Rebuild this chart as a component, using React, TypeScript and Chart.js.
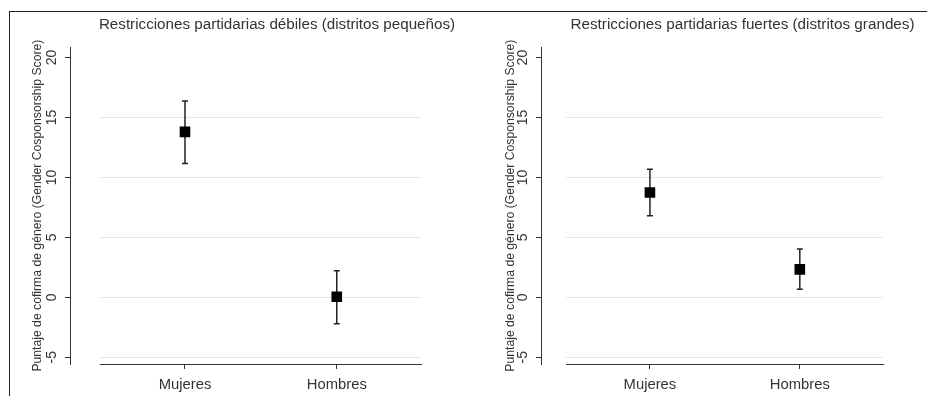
import React, { useEffect, useRef } from 'react';
import { Chart, registerables } from 'chart.js';

Chart.register(...registerables);

const categories = ['Mujeres', 'Hombres'];
const categoryPositions = [1, 2];
const yTickValues = [-5, 0, 5, 10, 15, 20];
const yGridValues = [-5, 0, 5, 10, 15];
const yAxisTitle = 'Puntaje de cofirma de género (Gender Cosponsorship Score)';

const weakTitle = 'Restricciones partidarias débiles (distritos pequeños)';
const weakMean = [13.8, 0.05];
const weakLow = [11.17, -2.2];
const weakHigh = [16.38, 2.22];

const strongTitle = 'Restricciones partidarias fuertes (distritos grandes)';
const strongMean = [8.75, 2.33];
const strongLow = [6.8, 0.67];
const strongHigh = [10.69, 4.03];

const Y_MIN = -5.56;
const Y_MAX = 20.86;
const X_MIN = 0.44;
const X_MAX = 2.555;

const FONT = "'Liberation Sans', Arial, sans-serif";
const INK = '#333333';

Chart.defaults.font.family = FONT;

// Draws the y2 scale's tick labels rotated 90°, centred on each tick, at a fixed gap from the axis line.
const rotatedYLabels = {
  id: 'rotatedYLabels',
  afterDraw(chart: any) {
    const s = chart.scales.y2;
    if (!s) return;
    const ctx = chart.ctx;
    ctx.save();
    ctx.fillStyle = INK;
    ctx.font = `14px ${FONT}`;
    ctx.textAlign = 'center';
    ctx.textBaseline = 'middle';
    for (const t of s.ticks) {
      const y = s.getPixelForValue(t.value);
      ctx.save();
      ctx.translate(s.right - 17.5, y);
      ctx.rotate(-Math.PI / 2);
      ctx.fillText(String(t.value), 0, 0);
      ctx.restore();
    }
    ctx.restore();
  },
};

type PanelProps = {
  left: number;
  width: number;
  title: string;
  titleSize: number;
  mean: number[];
  low: number[];
  high: number[];
  outerAxisWidth: number;
  yTitlePad: number;
  spacerWidth: number;
  rightWidth: number;
};

function Panel(p: PanelProps) {
  const ref = useRef<HTMLCanvasElement>(null);
  useEffect(() => {
    if (!ref.current) return;
    const pts = (vals: number[]) => categoryPositions.map((x, i) => ({ x, y: vals[i] }));
    const segments = categoryPositions.map((x, i) => ({
      data: [
        { x, y: p.low[i] },
        { x, y: p.high[i] },
      ],
      showLine: true,
      borderColor: '#222',
      borderWidth: 1.5,
      pointRadius: 0,
      order: 3,
    }));
    const chart = new Chart(ref.current, {
      type: 'scatter',
      data: {
        datasets: [
          {
            data: pts(p.mean),
            pointStyle: 'rect',
            pointRadius: 7.5,
            backgroundColor: '#000',
            borderColor: '#000',
            borderWidth: 0,
            order: 1,
          },
          {
            data: [...pts(p.low), ...pts(p.high)],
            pointStyle: 'line',
            pointRadius: 3,
            borderColor: '#222',
            borderWidth: 1.5,
            order: 2,
          },
          ...segments,
        ] as any,
      },
      plugins: [rotatedYLabels],
      options: {
        animation: false,
        responsive: false,
        events: [],
        layout: { padding: 0 },
        plugins: {
          legend: { display: false },
          tooltip: { enabled: false },
          title: {
            display: true,
            text: p.title,
            color: INK,
            font: { size: p.titleSize, weight: 'normal' },
            padding: { top: 16, bottom: 13 },
          },
        },
        scales: {
          x: {
            type: 'linear',
            position: 'bottom',
            min: X_MIN,
            max: X_MAX,
            afterBuildTicks: (s: any) => {
              s.ticks = categoryPositions.map((v) => ({ value: v }));
            },
            afterFit: (s: any) => {
              s.height = 32;
            },
            grid: {
              display: true,
              drawOnChartArea: false,
              drawTicks: true,
              tickLength: 5,
              color: INK,
              lineWidth: 1,
            },
            border: { display: true, color: INK, width: 1 },
            ticks: {
              color: INK,
              font: { size: 14.8 },
              padding: 7,
              maxRotation: 0,
              autoSkip: false,
              callback: (v: any) => {
                const i = categoryPositions.indexOf(Number(v));
                return i >= 0 ? categories[i] : '';
              },
            },
          },
          y: {
            type: 'linear',
            position: 'left',
            weight: 0,
            min: Y_MIN,
            max: Y_MAX,
            afterBuildTicks: (s: any) => {
              s.ticks = yGridValues.map((v) => ({ value: v }));
            },
            afterFit: (s: any) => {
              s.width = p.spacerWidth;
            },
            grid: { color: '#e6e6e6', lineWidth: 1, drawTicks: false },
            border: { display: false },
            ticks: { display: false },
          },
          y2: {
            type: 'linear',
            position: 'left',
            weight: 1,
            min: Y_MIN,
            max: Y_MAX,
            afterBuildTicks: (s: any) => {
              s.ticks = yTickValues.map((v) => ({ value: v }));
            },
            afterFit: (s: any) => {
              s.width = p.outerAxisWidth;
            },
            grid: {
              drawOnChartArea: false,
              drawTicks: true,
              tickLength: 5,
              color: INK,
              lineWidth: 1,
            },
            border: { display: true, color: INK, width: 1 },
            ticks: { display: false },
            title: {
              display: true,
              text: yAxisTitle,
              color: INK,
              font: { size: 12.2, lineHeight: 1 },
              padding: { top: p.yTitlePad, bottom: 0 },
            },
          },
          yr: {
            type: 'linear',
            position: 'right',
            display: true,
            grid: { display: false },
            border: { display: false },
            ticks: { display: false },
            afterFit: (s: any) => {
              s.width = p.rightWidth;
            },
          },
        } as any,
      },
    });
    return () => chart.destroy();
  }, []);
  return (
    <canvas
      ref={ref}
      width={p.width}
      height={396}
      style={{ position: 'absolute', left: p.left, top: 0, width: p.width, height: 396 }}
    />
  );
}

export default function App() {
  return (
    <div
      style={{
        position: 'absolute',
        left: 0,
        top: 0,
        width: 927,
        height: 396,
        overflow: 'hidden',
        background: '#fff',
      }}
    >
      <div
        style={{
          position: 'absolute',
          left: 9,
          top: 11,
          width: 1000,
          height: 500,
          borderTop: '1px solid #222',
          borderLeft: '1px solid #222',
        }}
      />
      <Panel
        left={0}
        width={554}
        title={weakTitle}
        titleSize={15.2}
        mean={weakMean}
        low={weakLow}
        high={weakHigh}
        outerAxisWidth={70}
        yTitlePad={32}
        spacerWidth={30}
        rightWidth={133}
      />
      <Panel
        left={480}
        width={525}
        title={strongTitle}
        titleSize={15.25}
        mean={strongMean}
        low={strongLow}
        high={strongHigh}
        outerAxisWidth={61}
        yTitlePad={25}
        spacerWidth={25}
        rightWidth={122}
      />
    </div>
  );
}
